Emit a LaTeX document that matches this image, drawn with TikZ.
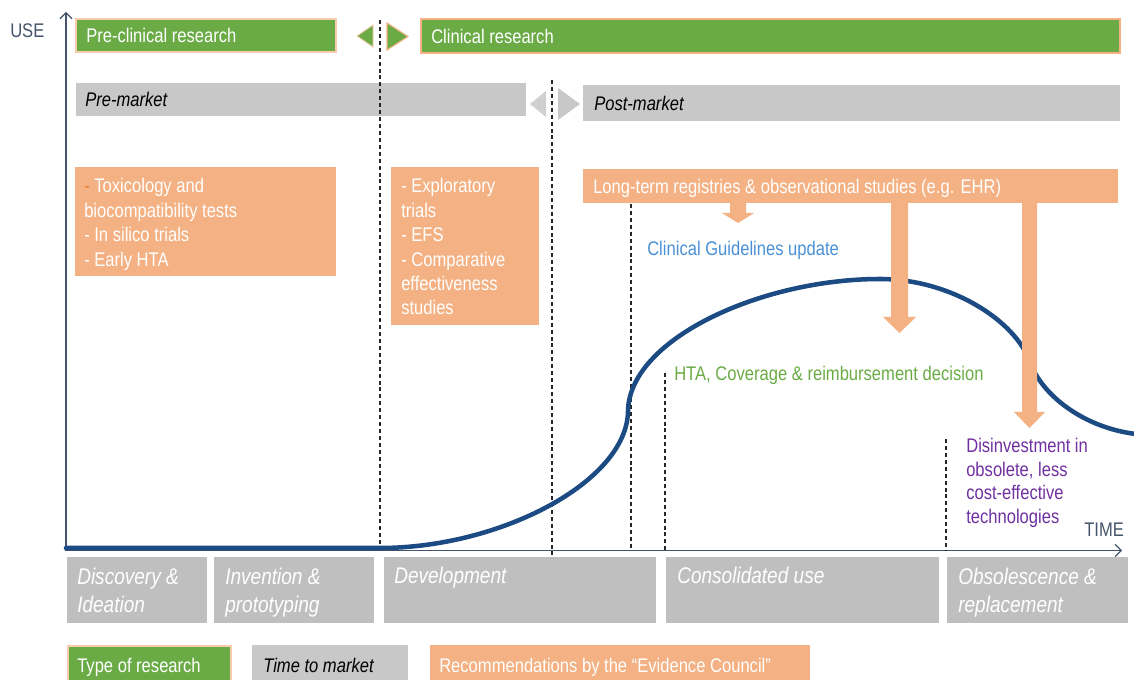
\documentclass[tikz,border=0pt]{standalone}
\usepackage{fontspec}
\setmainfont{Liberation Sans}[FakeStretch=0.84]
\usetikzlibrary{fit,arrows.meta}
\definecolor{rgreen}{RGB}{106,171,69}
\definecolor{rorange}{RGB}{244,177,131}
\definecolor{rpeach}{RGB}{248,203,173}
\definecolor{rgray}{RGB}{200,200,200}
\definecolor{rgrayb}{RGB}{191,191,191}
\definecolor{rnavy}{RGB}{28,74,130}
\definecolor{rslate}{RGB}{68,84,106}
\definecolor{rblue}{RGB}{74,144,214}
\definecolor{rgtext}{RGB}{106,171,69}
\definecolor{rpurple}{RGB}{112,48,160}
\definecolor{rdash}{RGB}{237,125,49}
\newcommand{\fsmain}{\fontsize{14.8}{18.3}\selectfont}
\newcommand{\fsbig}{\fontsize{17}{21}\selectfont}
\begin{document}
\begin{tikzpicture}[x=0.75pt,y=-0.75pt,
  box/.style={inner sep=0pt, outer sep=0pt},
  greenbox/.style={box, fill=rgreen},
  graybox/.style={box, fill=rgray},
  phasebox/.style={box, fill=rgrayb},
  recbox/.style={box, fill=rorange},
  txt/.style={inner sep=0pt, anchor=base west, align=left, font=\fsmain},
  phasetxt/.style={txt, font=\fsbig\itshape, text=white},
  divider/.style={draw=black!85, line width=1pt, dash pattern=on 3pt off 2.2pt},
  axisline/.style={draw=rslate, line width=0.9pt, -{Straight Barb[length=4.5pt,width=9pt]}},
  blockarrow/.style={fill=rorange}
]
\useasboundingbox (0,0) rectangle (1134,680);

% axes
\coordinate (O) at (66,550.5);
\coordinate (Ytop) at (66,12);
\coordinate (Xend) at (1122,550.5);
\draw[axisline] (O) -- (Ytop);
\draw[axisline] (O) -- (Xend);
\node[txt, text=rslate] (use) at (10,38) {USE};
\node[txt, text=rslate] (time) at (1084,536) {TIME};

% top bars: type of research
\node[greenbox, draw=rpeach, line width=0.8pt, fit={(76,19) (336,52)}] (precl) {};
\node[txt, text=white] (precltxt) at (86,43) {Pre-clinical research};
\node[greenbox, draw=rorange, line width=1.6pt, fit={(421,19) (1120,53)}] (clin) {};
\node[txt, text=white] (clintxt) at (431,44) {Clinical research};
\fill[rgreen, draw=rpeach, line width=0.6pt] (373,25) -- (373,47) -- (357,36) -- cycle;
\fill[rgreen, draw=rorange, line width=0.8pt] (387,23) -- (387,50) -- (408,36.5) -- cycle;

% time to market bars
\node[graybox, fit={(76,83) (526,116)}] (premk) {};
\node[txt, font=\fsmain\itshape] (premktxt) at (85,107) {Pre-market};
\node[graybox, fit={(583,85) (1120,121)}] (postmk) {};
\node[txt, font=\fsmain\itshape] (postmktxt) at (594,111) {Post-market};
\fill[rgray!85!white] (546,91) -- (546,117) -- (530,104) -- cycle;
\fill[rgray] (558,88) -- (558,120) -- (580,104) -- cycle;

% dividers
\coordinate (d1t) at (380,20);  \coordinate (d1b) at (380,548);
\coordinate (d2t) at (552,80);  \coordinate (d2b) at (552,557);
\coordinate (d3t) at (631,204); \coordinate (d3b) at (631,550);
\coordinate (d4t) at (665,373); \coordinate (d4b) at (665,550);
\coordinate (d5t) at (946,439); \coordinate (d5b) at (946,550);
\draw[divider] (d1t) -- (d1b);
\draw[divider] (d2t) -- (d2b);
\draw[divider] (d3t) -- (d3b);
\draw[divider] (d4t) -- (d4b);
\draw[divider] (d5t) -- (d5b);

% recommendation boxes (multi-line nodes: base = last line)
\node[recbox, fit={(75,167) (336,276)}] (rec1) {};
\node[txt, text=white] (rec1txt) at (84,266.2) {\textcolor{rdash}{-} Toxicology and\\biocompatibility tests\\- In silico trials\\- Early HTA};
\node[recbox, fit={(391,167) (539,325)}] (rec2) {};
\node[txt, text=white] (rec2txt) at (401,315) {- Exploratory\\trials\\- EFS\\- Comparative\\effectiveness\\studies};
\node[recbox, fit={(583,169) (1118,203)}] (lt) {};
\node[txt, text=white] (lttxt) at (593,194) {Long-term registries \& observational studies (e.g. EHR)};

% annotations
\node[txt, text=rblue] (cgu) at (647,256) {Clinical Guidelines update};
\node[txt, text=rgtext] (hta) at (674,381) {HTA, Coverage \& reimbursement decision};
\node[txt, text=rpurple, font=\fontsize{14.8}{17.6}\selectfont] (dis) at (966,523) {Disinvestment in\\obsolete, less\\cost-effective\\technologies};

% adoption curve
\draw[rnavy, line width=3.4pt, line cap=round]
  (O) ++(0,-2.5) -- (380,548)
  .. controls (500,548) and (626,482) .. (628,412)
  .. controls (628,340) and (760,279) .. (880,279)
  .. controls (950,279) and (1015,320) .. (1030,362)
  .. controls (1042,396) and (1085,428) .. (1136,434);

% block arrows from the long-term box
\fill[blockarrow] (730,203) -- (730,213) -- (722,213) -- (738,223) -- (754,213) -- (746,213) -- (746,203) -- cycle;
\fill[blockarrow] (891,203) -- (891,317) -- (883,317) -- (899.5,333) -- (916,317) -- (908,317) -- (908,203) -- cycle;
\fill[blockarrow] (1022,203) -- (1022,412) -- (1014,412) -- (1029.5,428) -- (1045,412) -- (1037,412) -- (1037,203) -- cycle;

% phases
\node[phasebox, fit={(67,557) (207,623)}] (ph1) {};
\node[phasetxt] (ph1txt) at (77,612) {Discovery \&\\Ideation};
\node[phasebox, fit={(214,557) (374,623)}] (ph2) {};
\node[phasetxt] (ph2txt) at (225,612) {Invention \&\\prototyping};
\node[phasebox, fit={(384,557) (656,623)}] (ph3) {};
\node[phasetxt] (ph3txt) at (394,583) {Development};
\node[phasebox, fit={(666,557) (939,623)}] (ph4) {};
\node[phasetxt] (ph4txt) at (677,583) {Consolidated use};
\node[phasebox, fit={(947,557) (1128,623)}] (ph5) {};
\node[phasetxt] (ph5txt) at (958,612) {Obsolescence \&\\replacement};

% legend
\node[greenbox, draw=rpeach, line width=0.8pt, fit={(68,646) (231,692)}] (lg1) {};
\node[txt, text=white] (lg1txt) at (77,672) {Type of research};
\node[graybox, fit={(252,645) (408,692)}] (lg2) {};
\node[txt, font=\fsmain\itshape] (lg2txt) at (263,672) {Time to market};
\node[recbox, fit={(430,645) (810,692)}] (lg3) {};
\node[txt, text=white] (lg3txt) at (439,672) {Recommendations by the “Evidence Council”};
\end{tikzpicture}
\end{document}
